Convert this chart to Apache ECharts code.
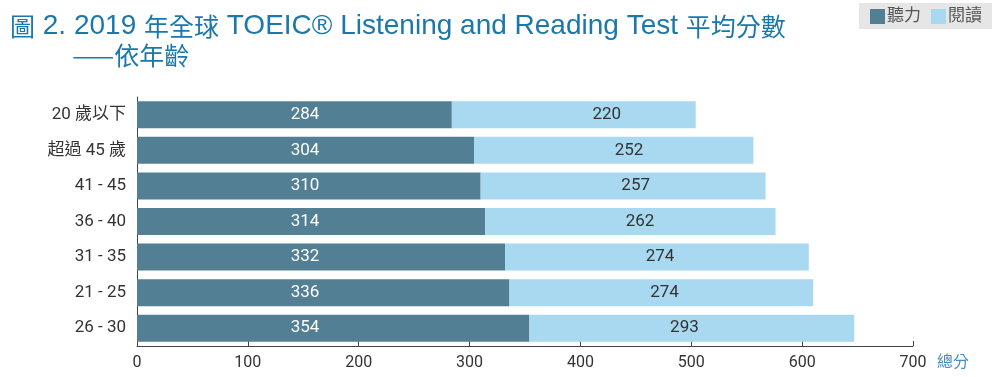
<!DOCTYPE html>
<html>
<head>
<meta charset="utf-8">
<script src="https://cdn.jsdelivr.net/npm/echarts@6/dist/echarts.min.js"></script>
<style>
html, body { margin: 0; padding: 0; background: #fff; }
#chart { width: 1000px; height: 377px; }
</style>
</head>
<body>
<div id="chart"></div>
<script>
var myChart = echarts.init(document.getElementById('chart'));

// 年齡組 (由上到下)
var ageGroups = ['20 歲以下', '超過 45 歲', '41 - 45', '36 - 40', '31 - 35', '21 - 25', '26 - 30'];
var listening = [284, 304, 310, 314, 332, 336, 354];
var reading = [220, 252, 257, 262, 274, 274, 293];
var xTicks = [0, 100, 200, 300, 400, 500, 600, 700];

var titleFont = '"Liberation Sans", "Noto Sans CJK TC", sans-serif';
var labelFont = 'Roboto, "Noto Sans CJK TC", sans-serif';

var option = {
	backgroundColor: '#fff',
	animation: false,
	title: {
		text: '{c|圖} 2. 2019 {c|年全球} TOEIC® Listening and Reading Test {c|平均分數}\n        {c|——依年齡}',
		left: 5,
		top: 7,
		textStyle: {
			color: '#1a78ab',
			fontSize: 28,
			fontWeight: 'normal',
			fontFamily: titleFont,
			lineHeight: 29,
			rich: {
				c: {
					color: '#1a78ab',
					fontSize: 25,
					fontFamily: '"Noto Sans CJK TC", sans-serif',
					lineHeight: 29
				}
			}
		}
	},
	legend: {
		right: 8,
		top: 3,
		backgroundColor: '#e6e6e6',
		padding: [5, 10, 4, 11],
		itemWidth: 15,
		itemHeight: 15,
		itemGap: 10,
		icon: 'rect',
		textStyle: {
			color: '#555',
			fontSize: 17,
			fontFamily: titleFont,
			padding: [0, 0, 0, -3]
		},
		data: ['聽力', '閱讀']
	},
	grid: {
		left: 137,
		right: 87,
		top: 97,
		bottom: 31
	},
	xAxis: {
		type: 'value',
		min: 0,
		max: 700,
		interval: 100,
		name: '總分',
		nameLocation: 'end',
		nameGap: 24,
		nameTextStyle: {
			color: '#4a8fbf',
			fontSize: 16,
			fontFamily: titleFont,
			verticalAlign: 'top',
			padding: [9, 0, 0, 0]
		},
		axisLine: { show: true, lineStyle: { color: '#444', width: 1 } },
		axisTick: { show: true, inside: true, length: 5, lineStyle: { color: '#444' } },
		axisLabel: {
			color: '#333',
			fontSize: 16,
			fontFamily: labelFont,
			margin: 9,
			formatter: function(v) { return xTicks.indexOf(v) >= 0 ? String(v) : ''; }
		},
		splitLine: { show: false }
	},
	yAxis: {
		type: 'category',
		inverse: true,
		data: ageGroups,
		axisLine: { show: true, lineStyle: { color: '#444', width: 1 } },
		axisTick: { show: false },
		axisLabel: {
			color: '#333',
			fontSize: 17,
			fontFamily: labelFont,
			margin: 11
		}
	},
	series: [{
		name: '聽力',
		type: 'bar',
		stack: 'total',
		barWidth: 27,
		itemStyle: { color: '#527f93' },
		label: {
			show: true,
			position: [168, '50%'],
			align: 'center',
			verticalAlign: 'middle',
			color: '#fff',
			fontSize: 17,
			fontFamily: labelFont
		},
		data: listening
	}, {
		name: '閱讀',
		type: 'bar',
		stack: 'total',
		barWidth: 27,
		itemStyle: { color: '#a8d9f0' },
		label: {
			show: true,
			position: [155, '50%'],
			align: 'center',
			verticalAlign: 'middle',
			color: '#333',
			fontSize: 17,
			fontFamily: labelFont
		},
		data: reading
	}]
};
myChart.setOption(option);
</script>
</body>
</html>
